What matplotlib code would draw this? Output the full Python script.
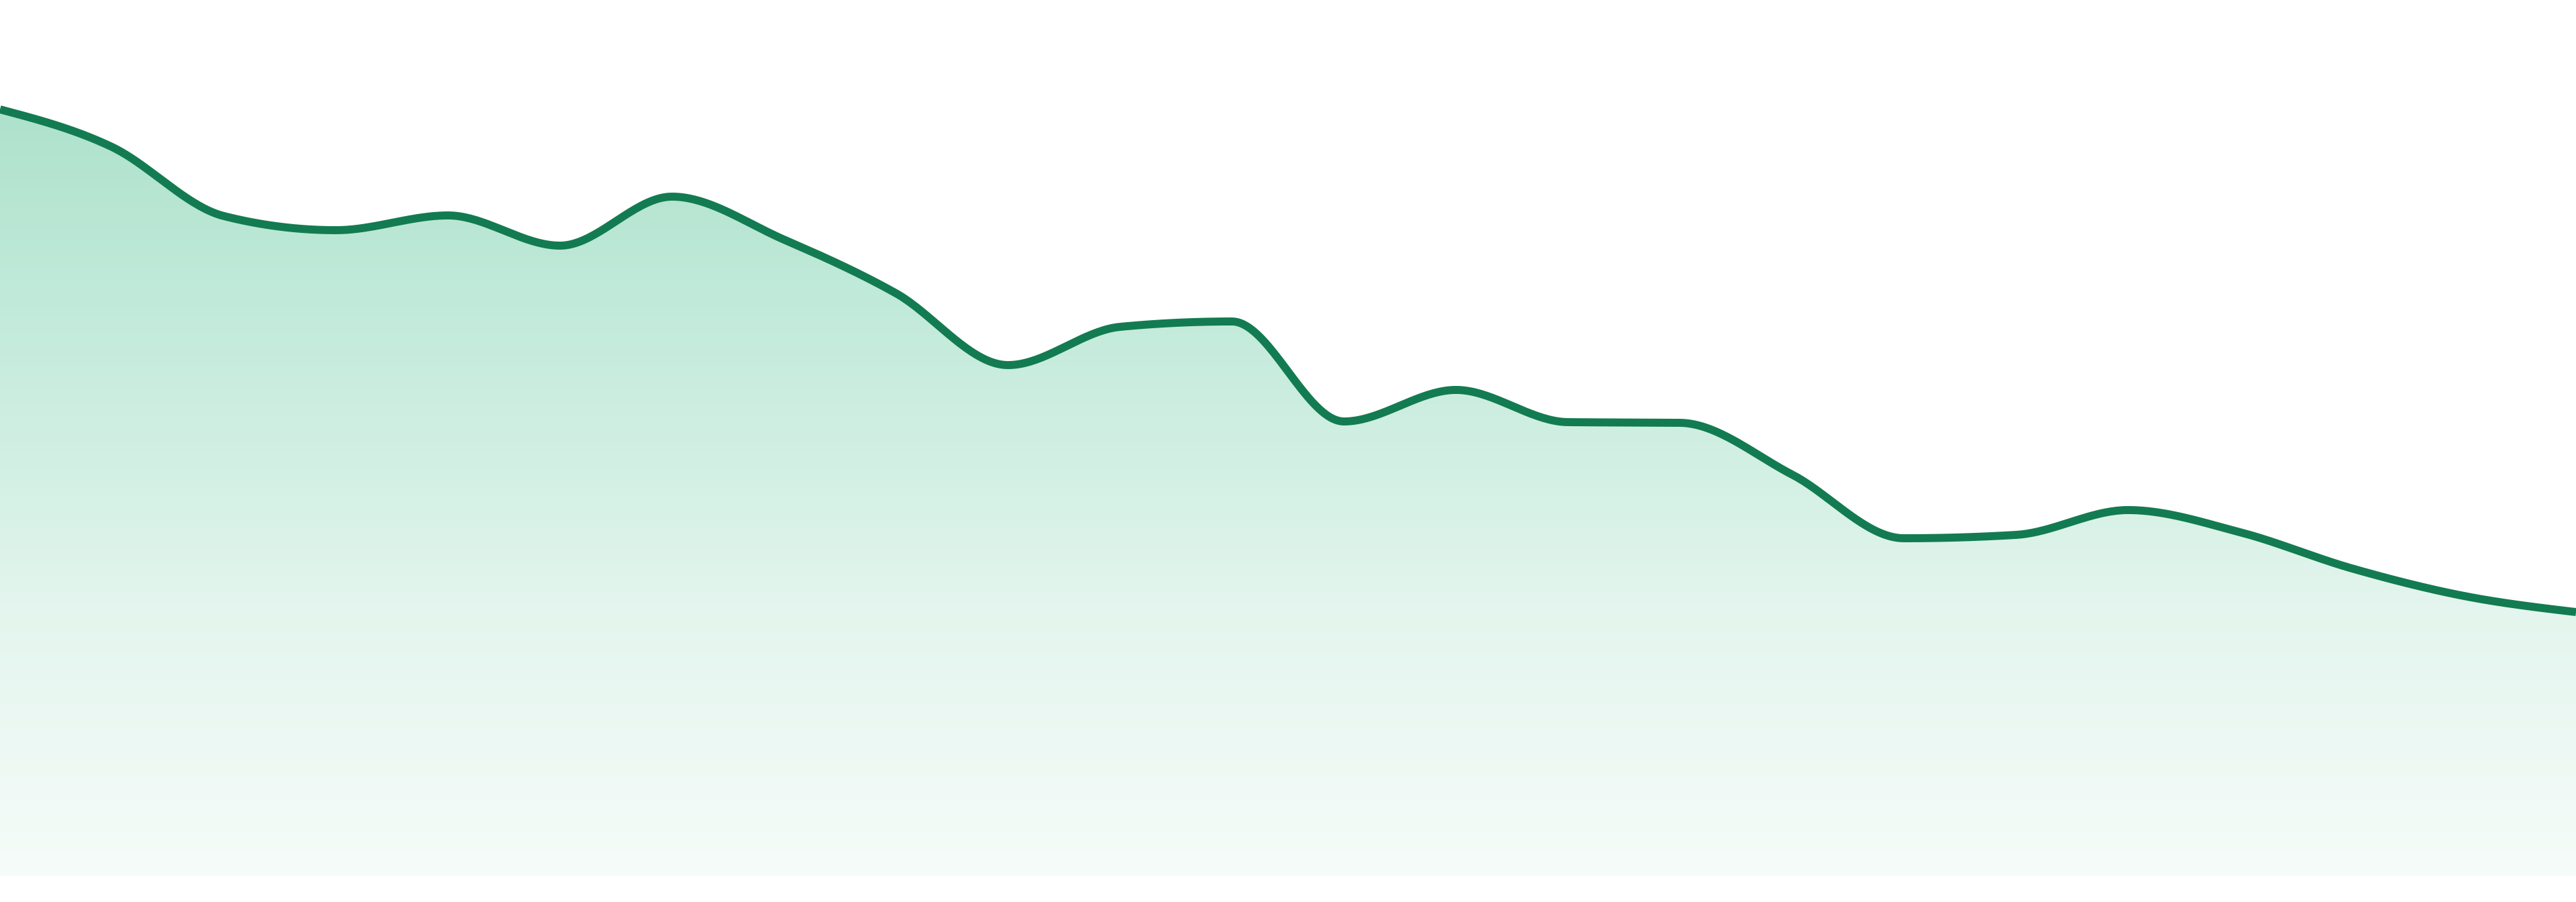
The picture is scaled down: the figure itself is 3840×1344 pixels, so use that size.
import numpy as np
import matplotlib
matplotlib.use("Agg")
import matplotlib.pyplot as plt

# values (baseline = 0)
values = [1142, 1086, 983, 962, 984, 939, 1012, 948, 868, 761, 818, 826,
          677, 724, 676, 675, 598, 503, 508, 545, 512, 458, 417, 393]
x_idx = np.arange(len(values))

LINE_COLOR = "#137b51"
Y_TOP = 1305
Y_BOTTOM = -39

# fill gradient stops: (pixel row from top, rgb)
grad_rows = [163, 417, 700, 900, 1305]
grad_r = [174, 191, 211, 227, 246]
grad_g = [226, 233, 240, 245, 252]
grad_b = [204, 216, 228, 238, 249]


def monotone_curve(x, y, n=40):
    # monotone cubic (d3 curveMonotoneX style) sampled as a polyline
    x = np.asarray(x, float)
    y = np.asarray(y, float)
    h = np.diff(x)
    s = np.diff(y) / h
    t = np.zeros_like(y)
    for i in range(1, len(y) - 1):
        h0, h1 = h[i - 1], h[i]
        s0, s1 = s[i - 1], s[i]
        p = (s0 * h1 + s1 * h0) / (h0 + h1)
        t[i] = (np.sign(s0) + np.sign(s1)) * min(abs(s0), abs(s1), 0.5 * abs(p))
    t[0] = (3 * s[0] - t[1]) / 2
    t[-1] = (3 * s[-1] - t[-2]) / 2
    xs, ys = [], []
    for i in range(len(y) - 1):
        u = np.linspace(0, 1, n, endpoint=False)
        h00 = 2 * u**3 - 3 * u**2 + 1
        h10 = u**3 - 2 * u**2 + u
        h01 = -2 * u**3 + 3 * u**2
        h11 = u**3 - u**2
        xs.append(x[i] + u * h[i])
        ys.append(h00 * y[i] + h10 * h[i] * t[i] + h01 * y[i + 1] + h11 * h[i] * t[i + 1])
    xs.append([x[-1]])
    ys.append([y[-1]])
    return np.concatenate(xs), np.concatenate(ys)


fig = plt.figure(figsize=(19.2, 6.72), dpi=200)
ax = fig.add_axes([0, 0, 1, 1])
ax.axis("off")

cx, cy = monotone_curve(x_idx, values)

# vertical gradient under the curve, top row first
rows = np.arange(grad_rows[0], grad_rows[-1] + 1)
rgb = np.stack([np.interp(rows, grad_rows, c) for c in (grad_r, grad_g, grad_b)], axis=-1) / 255
img = ax.imshow(rgb[:, None, :], aspect="auto", origin="upper",
                extent=[0, len(values) - 1, 0, Y_TOP - grad_rows[0]],
                interpolation="bilinear", zorder=1)

poly = ax.fill_between(cx, cy, 0, color="none", lw=0)
img.set_clip_path(poly.get_paths()[0], transform=ax.transData)

ax.plot(cx, cy, color=LINE_COLOR, lw=4.3, solid_capstyle="butt",
        solid_joinstyle="round", zorder=3)

# imshow resets the limits, so set them last
ax.set_xlim(0, len(values) - 1)
ax.set_ylim(Y_BOTTOM, Y_TOP)

fig.savefig("out.png", dpi=200, facecolor="white")
